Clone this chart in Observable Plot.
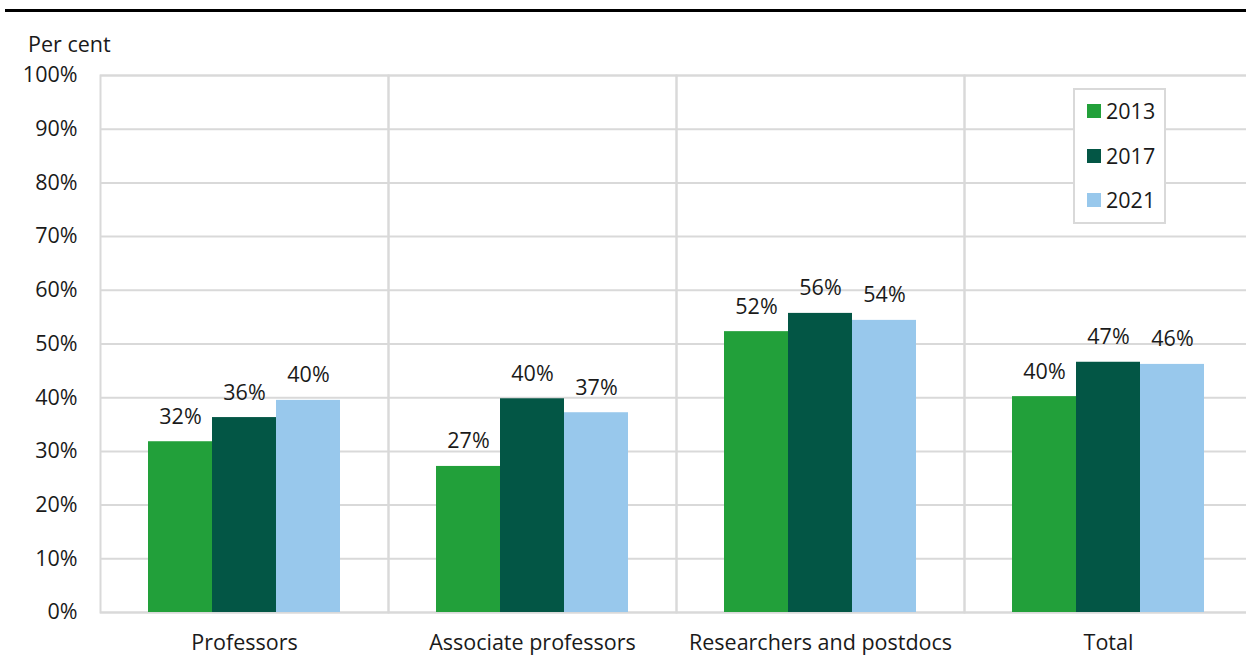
<!DOCTYPE html>
<html>
<head>
<meta charset="utf-8">
<script src="https://cdn.jsdelivr.net/npm/d3@7"></script>
<script src="https://cdn.jsdelivr.net/npm/@observablehq/plot@0.6"></script>
<style>
  body { margin: 0; background: #fff; overflow: hidden; font-family: "Open Sans", sans-serif; color: #1a1a1a; }
  #wrap { position: relative; width: 1246px; height: 664px; overflow: hidden; }
  #header { position: relative; height: 60px; }
  #rule { position: absolute; left: 5px; right: 0; top: 9px; height: 3px; background: #000; }
  #unit { position: absolute; left: 28px; top: 33px; font-size: 21.5px; line-height: 22px; }
  #legend { position: absolute; left: 1073px; top: 88px; width: 93px; height: 136px; border: 2px solid #d9d9d9; background: #fff; box-sizing: border-box; }
  .item { position: absolute; left: 12px; display: flex; align-items: center; gap: 5px; font-size: 21.5px; line-height: 22px; }
  .sw { width: 14px; height: 14px; }
  #chart { width: 1262px; }
  #chart svg { display: block; overflow: visible; max-width: none !important; width: 1262px !important; height: 604px !important; }
</style>
</head>
<body>
<div id="wrap">
  <div id="header"><div id="rule"></div><div id="unit">Per cent</div></div>
  <div id="chart"></div>
  <div id="legend"></div>
</div>
<script>
const categories = ["Professors", "Associate professors", "Researchers and postdocs", "Total"];
const years = ["2013", "2017", "2021"];
const v2013 = [31.8, 27.2, 52.3, 40.2];
const v2017 = [36.3, 39.8, 55.7, 46.6];
const v2021 = [39.5, 37.2, 54.4, 46.2];
const yTicks = [0, 10, 20, 30, 40, 50, 60, 70, 80, 90, 100];
const colors = ["#22a03a", "#035645", "#98c8ec"];

const series = [v2013, v2017, v2021];
const data = [];
categories.forEach((c, i) => {
  years.forEach((y, j) => data.push({cat: c, year: y, value: series[j][i]}));
});

const chart = Plot.plot({
  width: 1262,
  height: 604,
  marginTop: 15,
  marginBottom: 52,
  marginLeft: 100,
  marginRight: 10,
  style: { fontFamily: "'Open Sans', sans-serif", fontSize: "21.5px", color: "#1a1a1a", background: "transparent" },
  fx: { domain: categories, padding: 0, axis: "bottom", tickSize: 0, tickPadding: 22, label: null },
  x: { domain: years, paddingInner: 0, paddingOuter: 0.75, axis: null },
  y: { domain: [0, 100], ticks: yTicks, tickFormat: d => d + "%", tickSize: 0, tickPadding: 23, label: null },
  color: { domain: years, range: colors },
  marks: [
    Plot.gridY(yTicks, { stroke: "#d9d9d9", strokeOpacity: 1, strokeWidth: 2 }),
    Plot.frame({ stroke: "#d9d9d9", strokeWidth: 2 }),
    Plot.barY(data, { fx: "cat", x: "year", y: "value", fill: "year" }),
    Plot.text(data, { fx: "cat", x: "year", y: "value", text: d => Math.round(d.value) + "%", lineAnchor: "bottom", dy: -18, fontSize: 21.5, fill: "#1a1a1a" })
  ]
});
document.getElementById("chart").appendChild(chart);

const legend = document.getElementById("legend");
const rowTops = [10, 55, 99];
years.forEach((y, i) => {
  const it = document.createElement("div");
  it.className = "item";
  it.style.top = rowTops[i] + "px";
  const sw = document.createElement("div");
  sw.className = "sw";
  sw.style.background = colors[i];
  const t = document.createElement("span");
  t.textContent = y;
  it.appendChild(sw); it.appendChild(t);
  legend.appendChild(it);
});
</script>
</body>
</html>
